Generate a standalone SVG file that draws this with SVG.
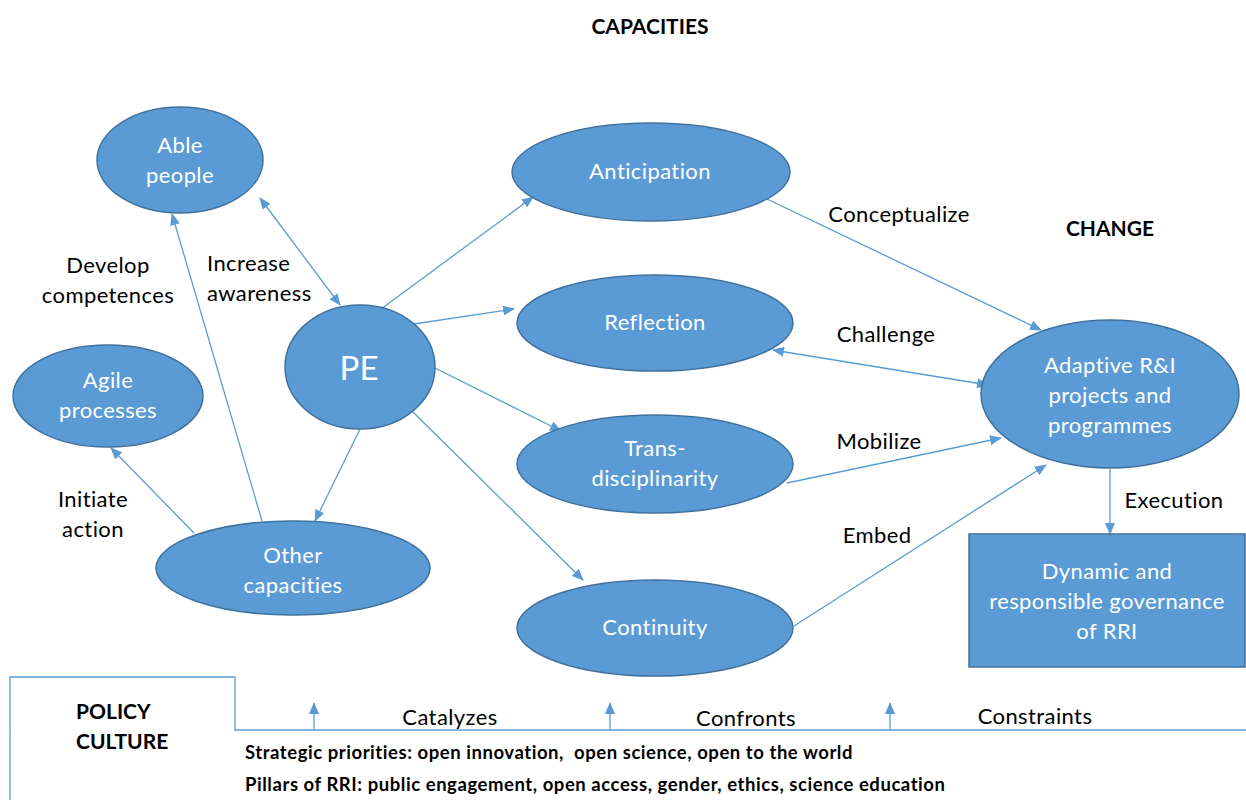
<svg xmlns="http://www.w3.org/2000/svg" width="1246" height="800" viewBox="0 0 1246 800">
  <style>
    .node { fill: #5b9bd5; stroke: #41719c; stroke-width: 1.5; }
    .nt { font-family: Lato, "Open Sans", sans-serif; font-size: 22px; letter-spacing: 0.4px; fill: #ffffff; text-anchor: middle; }
    .big { font-size: 33px; letter-spacing: 0; }
    .lbl { font-family: Lato, "Open Sans", sans-serif; font-size: 22px; letter-spacing: 0.4px; fill: #000000; text-anchor: middle; }
    .hd { font-family: Lato, "Open Sans", sans-serif; font-size: 21px; font-weight: bold; fill: #000000; text-anchor: middle; }
    .left { text-anchor: start; }
    .small { font-family: Lato, "Open Sans", sans-serif; font-size: 18.5px; letter-spacing: 0.55px; font-weight: bold; fill: #000000; white-space: pre; }
    .edge { stroke: #5b9bd5; stroke-width: 1.3; fill: none; }
    .frame { stroke: #5b9bd5; stroke-width: 1.3; fill: none; }
  </style>
  <defs>
    <marker id="ah" markerWidth="12" markerHeight="10" refX="11" refY="5" orient="auto-start-reverse" markerUnits="userSpaceOnUse">
      <path d="M0,0 L12,5 L0,10 Z" fill="#5b9bd5"/>
    </marker>
  </defs>
  <rect width="1246" height="800" fill="#ffffff"/>

  <!-- headings -->
  <text class="hd" x="650" y="34">CAPACITIES</text>
  <text class="hd" x="1110" y="236">CHANGE</text>

  <!-- connectors -->
  <g id="connectors">
    <line class="edge" x1="260" y1="198" x2="340" y2="305" marker-start="url(#ah)" marker-end="url(#ah)"/>
    <line class="edge" x1="262" y1="521" x2="172" y2="214" marker-end="url(#ah)"/>
    <line class="edge" x1="194" y1="533" x2="111" y2="448" marker-end="url(#ah)"/>
    <line class="edge" x1="360" y1="429" x2="315" y2="521" marker-end="url(#ah)"/>
    <line class="edge" x1="381" y1="309" x2="533" y2="197" marker-end="url(#ah)"/>
    <line class="edge" x1="414" y1="324" x2="514" y2="309" marker-end="url(#ah)"/>
    <line class="edge" x1="435" y1="368" x2="561" y2="431" marker-end="url(#ah)"/>
    <line class="edge" x1="413" y1="412" x2="583" y2="580" marker-end="url(#ah)"/>
    <line class="edge" x1="767" y1="199" x2="1041" y2="330" marker-end="url(#ah)"/>
    <line class="edge" x1="773" y1="350" x2="988" y2="385" marker-start="url(#ah)" marker-end="url(#ah)"/>
    <line class="edge" x1="787" y1="483" x2="1001" y2="438" marker-end="url(#ah)"/>
    <line class="edge" x1="794" y1="626" x2="1046" y2="465" marker-end="url(#ah)"/>
    <line class="edge" x1="1110" y1="469" x2="1110" y2="534" marker-end="url(#ah)"/>
    <line class="edge" x1="314" y1="730" x2="314" y2="703" marker-end="url(#ah)"/>
    <line class="edge" x1="610" y1="730" x2="610" y2="703" marker-end="url(#ah)"/>
    <line class="edge" x1="890" y1="730" x2="890" y2="703" marker-end="url(#ah)"/>
  </g>

  <!-- connector labels -->
  <g id="labels">
    <text class="lbl" x="108" y="273">Develop</text>
    <text class="lbl" x="108" y="303">competences</text>
    <text class="lbl left" x="207" y="271">Increase</text>
    <text class="lbl left" x="207" y="301">awareness</text>
    <text class="lbl" x="93" y="507">Initiate</text>
    <text class="lbl" x="93" y="537">action</text>
    <text class="lbl" x="899" y="222">Conceptualize</text>
    <text class="lbl" x="886" y="342">Challenge</text>
    <text class="lbl" x="879" y="449">Mobilize</text>
    <text class="lbl" x="877" y="543">Embed</text>
    <text class="lbl" x="1174" y="508">Execution</text>
  </g>

  <g id="able-people">
    <ellipse class="node" cx="180" cy="160" rx="83" ry="53"/>
    <text class="nt" x="180" y="153">Able</text>
    <text class="nt" x="180" y="183">people</text>
  </g>
  <g id="agile-processes">
    <ellipse class="node" cx="108" cy="396" rx="95" ry="51"/>
    <text class="nt" x="108" y="388">Agile</text>
    <text class="nt" x="108" y="418">processes</text>
  </g>
  <g id="pe">
    <ellipse class="node" cx="360" cy="367" rx="75" ry="62"/>
    <text class="nt big" x="359" y="380">PE</text>
  </g>
  <g id="other-capacities">
    <ellipse class="node" cx="293" cy="568" rx="137" ry="47"/>
    <text class="nt" x="293" y="563">Other</text>
    <text class="nt" x="293" y="593">capacities</text>
  </g>
  <g id="anticipation">
    <ellipse class="node" cx="651" cy="172" rx="139" ry="49"/>
    <text class="nt" x="650" y="179">Anticipation</text>
  </g>
  <g id="reflection">
    <ellipse class="node" cx="655" cy="323" rx="138" ry="48"/>
    <text class="nt" x="655" y="330">Reflection</text>
  </g>
  <g id="transdisciplinarity">
    <ellipse class="node" cx="655" cy="464" rx="138" ry="49"/>
    <text class="nt" x="655" y="456">Trans-</text>
    <text class="nt" x="655" y="486">disciplinarity</text>
  </g>
  <g id="continuity">
    <ellipse class="node" cx="655" cy="628" rx="138" ry="48"/>
    <text class="nt" x="655" y="635">Continuity</text>
  </g>
  <g id="adaptive">
    <ellipse class="node" cx="1110" cy="394" rx="129" ry="74"/>
    <text class="nt" x="1110" y="373">Adaptive R&amp;I</text>
    <text class="nt" x="1110" y="403">projects and</text>
    <text class="nt" x="1110" y="433">programmes</text>
  </g>
  <g id="governance">
    <rect class="node" x="969" y="534" width="276" height="133"/>
    <text class="nt" x="1107" y="579">Dynamic and</text>
    <text class="nt" x="1107" y="609">responsible governance</text>
    <text class="nt" x="1107" y="639">of RRI</text>
  </g>

  <!-- policy culture band -->
  <g id="policy-culture">
    <path class="frame" d="M10,800 L10,677 L235,677 L235,730 L1246,730"/>
    <text class="hd left" x="76" y="719">POLICY</text>
    <text class="hd left" x="76" y="749">CULTURE</text>
    <text class="lbl" x="450" y="725">Catalyzes</text>
    <text class="lbl" x="746" y="726">Confronts</text>
    <text class="lbl" x="1035" y="724">Constraints</text>
    <text class="small" x="245" y="759">Strategic priorities: open innovation,  open science, open to the world</text>
    <text class="small" x="245" y="791">Pillars of RRI: public engagement, open access, gender, ethics, science education</text>
  </g>
</svg>
